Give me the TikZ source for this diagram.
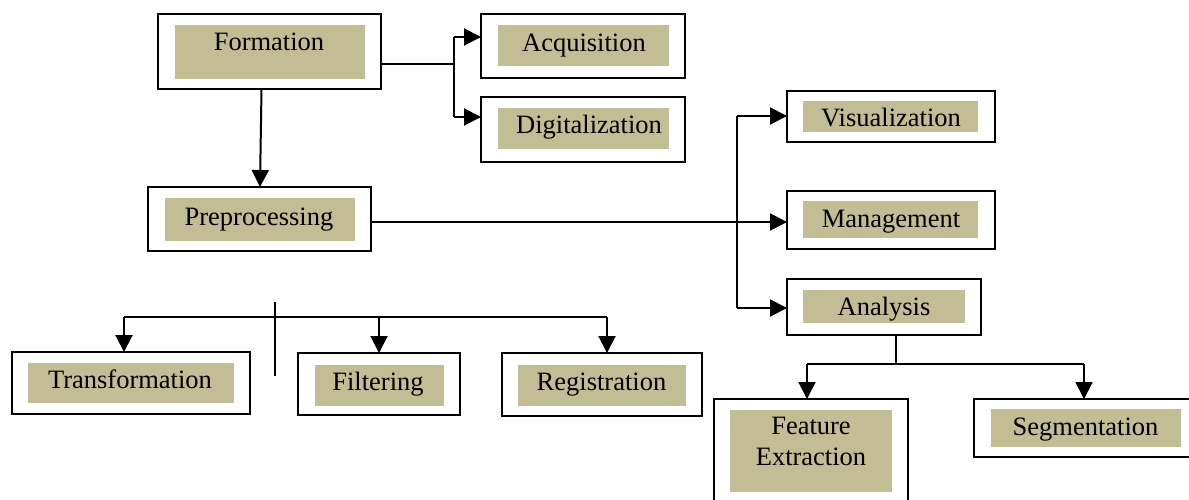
\documentclass[tikz,border=0pt]{standalone}
\usepackage{fontspec}
\setmainfont{Liberation Serif}
\usetikzlibrary{arrows.meta}
\definecolor{khaki}{RGB}{194,189,149}
\tikzset{
  frame/.style={draw=black, line width=2pt, fill=white, inner sep=0pt},
  lbl/.style={inner sep=0pt, font=\fontsize{26.5}{31}\selectfont},
  conn/.style={draw=black, line width=2pt},
  arr/.style={conn, -{Triangle[length=17pt, width=17pt]}, shorten >=-1pt},
}
\begin{document}
\begin{tikzpicture}[x=1pt, y=-1pt]
\useasboundingbox (0,0) rectangle (1189,499);
\fill[white] (0,0) rectangle (1189,499);
\begin{scope}
\clip (0,0) rectangle (1189,499);

% outer frames
\node[frame, minimum width=223pt, minimum height=75pt] (form) at (269.5,51.5) {};
\node[frame, minimum width=204pt, minimum height=64pt] (acq)  at (583,46) {};
\node[frame, minimum width=204pt, minimum height=65pt] (dig)  at (583,129.5) {};
\node[frame, minimum width=223pt, minimum height=64pt] (pre)  at (259.5,219) {};
\node[frame, minimum width=208pt, minimum height=51pt] (vis)  at (891,116.5) {};
\node[frame, minimum width=208pt, minimum height=58pt] (mg)   at (891,220) {};
\node[frame, minimum width=194pt, minimum height=56pt] (an)   at (884,307) {};
\node[frame, minimum width=238pt, minimum height=62pt] (tr)   at (131,383) {};
\node[frame, minimum width=162pt, minimum height=62pt] (fil)  at (379,384) {};
\node[frame, minimum width=200pt, minimum height=63pt] (reg)  at (602,384.5) {};
\node[frame, minimum width=194pt, minimum height=111pt] (fe)  at (811,454.5) {};
\node[frame, minimum width=222pt, minimum height=58pt] (seg)  at (1085,428) {};

% shaded label panels
\fill[khaki] (175,25) rectangle (365,79);
\fill[khaki] (498,25) rectangle (669,66);
\fill[khaki] (498,108) rectangle (669,149);
\fill[khaki] (165,198) rectangle (355,241);
\fill[khaki] (803,101) rectangle (978,132);
\fill[khaki] (803,201) rectangle (978,238);
\fill[khaki] (803,290) rectangle (965,323);
\fill[khaki] (28,363) rectangle (234,403);
\fill[khaki] (315,365) rectangle (444,406);
\fill[khaki] (518,365) rectangle (686,406);
\fill[khaki] (730,410) rectangle (892,492);
\fill[khaki] (991,409) rectangle (1181,447);

% labels
\node[lbl, anchor=base] (tform) at (269,50.5) {Formation};
\node[lbl, anchor=base] (tacq)  at (584,51) {Acquisition};
\node[lbl, anchor=base] (tdig)  at (589,133.5) {Digitalization};
\node[lbl, anchor=base] (tpre)  at (259,225) {Preprocessing};
\node[lbl, anchor=base] (tvis)  at (891,126.5) {Visualization};
\node[lbl, anchor=base] (tmg)   at (891,227.5) {Management};
\node[lbl, anchor=base] (tan)   at (884,315) {Analysis};
\node[lbl, anchor=base] (ttr)   at (130,388.5) {Transformation};
\node[lbl, anchor=base] (tfil)  at (378,390.5) {Filtering};
\node[lbl, anchor=base] (treg)  at (601.5,390) {Registration};
\node[lbl, anchor=base] (tfe1)  at (811,434) {Feature};
\node[lbl, anchor=base] (tfe2)  at (811,465) {Extraction};
\node[lbl, anchor=base] (tseg)  at (1085.5,435) {Segmentation};

% Formation branches
\coordinate (fj) at (454,64);
\coordinate (fjtop) at (454,37);
\coordinate (fjbot) at (454,117);
\draw[conn] (form.east |- fj) -- (fj);
\draw[conn] (fjtop) -- (fjbot);
\draw[arr] (fjtop) -- (fjtop -| acq.west);
\draw[arr] (fjbot) -- (fjbot -| dig.west);
\draw[arr] ([xshift=-8pt]form.south) -- ([xshift=0.5pt]pre.north);

% Preprocessing branches (right)
\coordinate (bus) at (737,222);
\coordinate (btop) at (737,116);
\coordinate (bbot) at (737,308);
\draw[arr] (pre.east |- bus) -- (bus -| mg.west);
\draw[conn] (btop) -- (bbot);
\draw[arr] (btop) -- (btop -| vis.west);
\draw[arr] (bbot) -- (bbot -| an.west);

% Preprocessing branches (left)
\coordinate (l1) at (124,317);
\coordinate (l2) at (379,317);
\coordinate (l3) at (607,317);
\coordinate (tick1) at (275,302);
\coordinate (tick2) at (275,376);
\draw[conn] (l1) -- (l3);
\draw[conn] (tick1) -- (tick2);
\draw[arr] (l1) -- (l1 |- tr.north);
\draw[arr] (l2) -- (l2 |- fil.north);
\draw[arr] (l3) -- (l3 |- reg.north);

% Analysis branches
\coordinate (aj) at (896,364);
\coordinate (a1) at (807,364);
\coordinate (a2) at (1084,364);
\draw[conn] (an.south -| aj) -- (aj);
\draw[conn] (a1) -- (a2);
\draw[arr] (a1) -- (a1 |- fe.north);
\draw[arr] (a2) -- (a2 |- seg.north);
\end{scope}
\end{tikzpicture}
\end{document}
